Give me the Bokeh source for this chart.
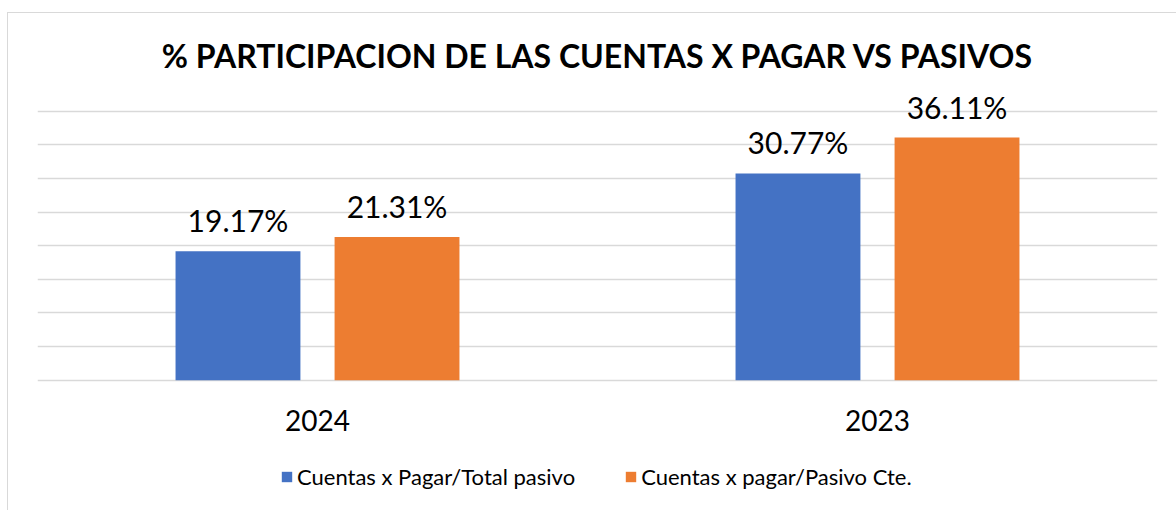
from bokeh.plotting import figure
from bokeh.models import (ColumnDataSource, FactorRange, Range1d, LabelSet, Legend, LegendItem,
                          FixedTicker)
from bokeh.transform import dodge
from bokeh.core.properties import value
from bokeh.embed import file_html
from bokeh.resources import INLINE

years = ["2024", "2023"]
total_pasivo = [19.17, 30.77]
pasivo_cte = [21.31, 36.11]
series_names = ["Cuentas x Pagar/Total pasivo", "Cuentas x pagar/Pasivo Cte."]
title_text = "% PARTICIPACION DE LAS CUENTAS X PAGAR VS PASIVOS"
grid_ticks = [0, 5, 10, 15, 20, 25, 30, 35, 40]

FONT = "Lato"
BLUE = "#4472C4"
ORANGE = "#ED7D31"

src = ColumnDataSource(dict(
    year=years,
    a=total_pasivo,
    b=pasivo_cte,
    a_lbl=[f"{v:.2f}%" for v in total_pasivo],
    b_lbl=[f"{v:.2f}%" for v in pasivo_cte],
    cat_y=[-6.0] * len(years),
))

p = figure(frame_width=1120, frame_height=416, output_backend="svg", toolbar_location=None,
           x_range=FactorRange(*years), y_range=Range1d(-17.9, 44),
           min_border_left=29, min_border_right=20, min_border_top=71, min_border_bottom=11,
           margin=(12, 0, 0, 7))
p.styles = {"border-left": "1px solid #d9d9d9", "border-top": "1px solid #d9d9d9"}

p.outline_line_color = None
p.xaxis.visible = False
p.yaxis.visible = False
p.xgrid.grid_line_color = None
p.ygrid.ticker = FixedTicker(ticks=grid_ticks)
p.ygrid.grid_line_color = "#d9d9d9"
p.ygrid.grid_line_width = 1.5

bw = 0.223
off = 0.142
r1 = p.vbar(x=dodge("year", -off, range=p.x_range), top="a", width=bw, source=src,
            fill_color=BLUE, line_color=None)
r2 = p.vbar(x=dodge("year", off, range=p.x_range), top="b", width=bw, source=src,
            fill_color=ORANGE, line_color=None)

for col, lbl, o in (("a", "a_lbl", -off), ("b", "b_lbl", off)):
    ls = LabelSet(x=dodge("year", o, range=p.x_range), y=col, text=lbl, source=src,
                  text_align="center", text_baseline="alphabetic", y_offset=19,
                  text_font=value(FONT), text_font_size="30px", text_color="#000000")
    p.add_layout(ls)

# category labels (x axis)
cat = LabelSet(x="year", y="cat_y", text="year", source=src, text_align="center",
               text_baseline="middle", text_font=value(FONT), text_font_size="28px",
               text_color="#000000")
p.add_layout(cat)

p.title.text = title_text
p.title.align = "center"
p.title.text_font = FONT
p.title.text_font_size = "32px"
p.title.text_font_style = "bold"
p.title.text_color = "#000000"
p.title.standoff = 20

legend = Legend(items=[LegendItem(label=series_names[0], renderers=[r1]),
                       LegendItem(label=series_names[1], renderers=[r2])],
                orientation="horizontal", location=(243, 10),
                glyph_width=13, glyph_height=13, label_standoff=4, spacing=49,
                label_text_font=FONT, label_text_font_size="22px", label_text_color="#000000",
                border_line_color=None, background_fill_alpha=0, padding=0, margin=0)
p.add_layout(legend, "center")

open("out.html", "w").write(file_html(p, INLINE))
